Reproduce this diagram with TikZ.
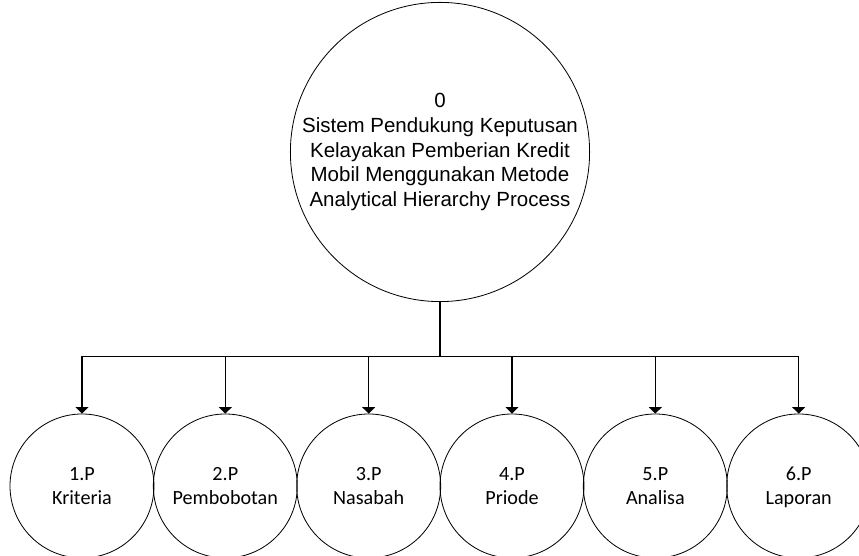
\documentclass[tikz,border=0pt]{standalone}
\usepackage{fontspec}
\setmainfont{Liberation Sans}
\newfontfamily\procfont{Carlito}
\usetikzlibrary{arrows.meta,positioning}

\tikzset{
  mainproc/.style={circle, draw, line width=0.7pt, minimum size=8.7cm, inner sep=0pt, align=center, font=\fontsize{17.5}{21.3}\selectfont},
  subproc/.style={circle, draw, line width=0.7pt, minimum size=4.32cm, inner sep=0pt, align=center, text depth=-4pt, font=\procfont\fontsize{17.2}{20.5}\selectfont},
  branch/.style={line width=1pt, -{Triangle[width=11pt,length=5.5pt]}}
}

\begin{document}
\begin{tikzpicture}
\useasboundingbox (0,0) rectangle (25.77,16.68);
\node [mainproc] (sys) at (13.2,12.12) {0\\Sistem Pendukung Keputusan\\Kelayakan Pemberian Kredit\\Mobil Menggunakan Metode\\Analytical Hierarchy Process};

\node [subproc] (kriteria) at (2.46,2.1) {1.P\\Kriteria};
\node [subproc] (bobot) at ([xshift=4.3cm]kriteria.center) {2.P\\Pembobotan};
\node [subproc] (nasabah) at ([xshift=4.3cm]bobot.center) {3.P\\Nasabah};
\node [subproc] (priode) at ([xshift=4.3cm]nasabah.center) {4.P\\Priode};
\node [subproc] (analisa) at ([xshift=4.3cm]priode.center) {5.P\\Analisa};
\node [subproc] (laporan) at ([xshift=4.3cm]analisa.center) {6.P\\Laporan};

\coordinate (bus) at ([yshift=1.71cm]kriteria.north -| sys.south);
\draw [line width=2pt] (sys.south) -- (bus);
\draw [branch] (bus) -| (kriteria.north);
\draw [branch] (bus) -| (bobot.north);
\draw [branch] (bus) -| (nasabah.north);
\draw [branch] (bus) -| (priode.north);
\draw [branch] (bus) -| (analisa.north);
\draw [branch] (bus) -| (laporan.north);
\end{tikzpicture}
\end{document}
